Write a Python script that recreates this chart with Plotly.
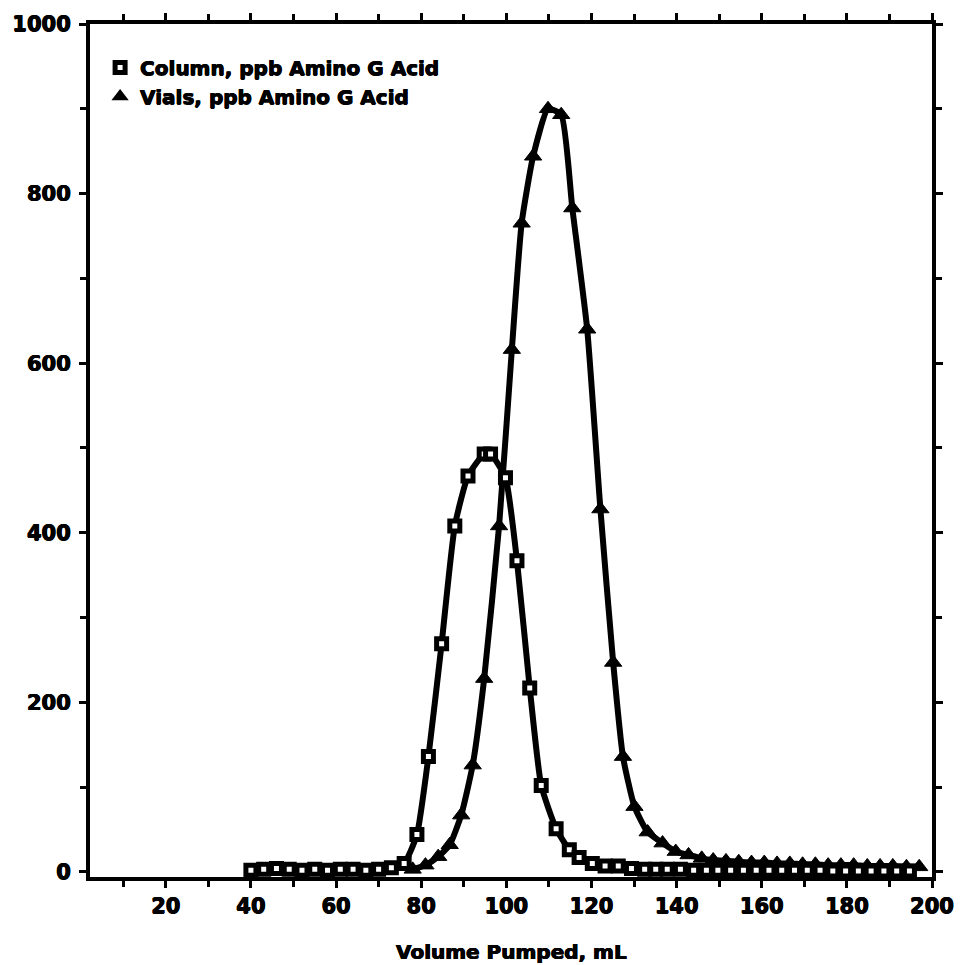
import plotly.graph_objects as go

# Column, ppb Amino G Acid (open squares)
col_x = [40, 43, 46, 49, 52, 55, 58, 61, 64, 67, 70, 73,
         76, 79, 81.7, 84.8, 87.9, 91, 94.8, 96.3, 99.8,
         102.5, 105.5, 108.2, 111.7, 114.8, 117.1, 120.2, 123.2,
         126.3, 129.4, 132.5, 135.1, 137.8, 140.9, 144, 147, 149.7,
         152.7, 155.7, 158.7, 161.7, 164.7, 167.7, 170.7, 173.7,
         176.7, 179.7, 182.7, 185.7, 188.7, 191.7, 194.7]
col_y = [2, 3, 4, 3, 2, 3, 2, 3, 3, 2, 3, 5,
         10, 44, 136, 269, 408, 467, 493, 493, 465,
         367, 217, 102, 51, 26, 17, 10, 7,
         7, 4, 3, 3, 3, 3, 2, 2, 2,
         2, 2, 2, 2, 2, 2, 2, 2,
         1, 1, 1, 1, 1, 1, 1]

# Vials, ppb Amino G Acid (filled triangles)
vial_x = [78, 81, 84, 86.7, 89.4, 92.1, 94.8, 98.3, 101.3, 103.6, 106.3,
          109.8, 112.9, 115.5, 119.0, 122.1, 125.1, 127.4, 130.1,
          133.2, 136.7, 139.8, 142.8, 145.9, 148.6,
          151.6, 154.6, 157.6, 160.6, 163.6, 166.6, 169.6, 172.6,
          175.6, 178.6, 181.6, 184.8, 187.8, 190.8, 194.0, 197.0]
vial_y = [3, 8, 18, 32, 67, 126, 228, 408, 616, 765, 844,
          900, 893, 783, 640, 428, 247, 136, 77,
          47, 34, 24, 20, 16, 14,
          13, 12, 11, 11, 10, 10, 9, 9,
          8, 8, 8, 7, 7, 7, 6, 6]

x_ticks = [20, 40, 60, 80, 100, 120, 140, 160, 180, 200]
y_ticks = [0, 200, 400, 600, 800, 1000]

FONT = "DejaVu Sans"
HEAVY = "0.5px 0 0 black, -0.5px 0 0 black, 0 0.4px 0 black"

fig = go.Figure()

fig.add_trace(go.Scatter(
    x=vial_x, y=vial_y, mode="lines+markers", showlegend=False,
    line=dict(color="black", width=6, shape="spline", smoothing=0.5),
    marker=dict(symbol="triangle-up", size=15, color="black",
                line=dict(color="black", width=1)),
))
fig.add_trace(go.Scatter(
    x=col_x, y=col_y, mode="lines+markers", showlegend=False,
    line=dict(color="black", width=6, shape="spline", smoothing=0.5),
    marker=dict(symbol="square", size=10, color="white",
                line=dict(color="black", width=5)),
))

# legend entries (marker only, as in the original)
fig.add_trace(go.Scatter(
    x=[None], y=[None], mode="markers", name="Column, ppb Amino G Acid",
    marker=dict(symbol="square", size=10, color="white",
                line=dict(color="black", width=5)),
    legend="legend",
))
fig.add_trace(go.Scatter(
    x=[None], y=[None], mode="markers", name="Vials, ppb Amino G Acid",
    marker=dict(symbol="triangle-up", size=15, color="black"),
    legend="legend2",
))

axis_common = dict(
    showline=True, linecolor="black", linewidth=4, mirror="allticks",
    ticks="outside", ticklen=7, tickwidth=3, tickcolor="black",
    showgrid=False, zeroline=False,
    tickfont=dict(family=FONT, size=21, color="black", weight="bold",
                  shadow=HEAVY),
)

fig.update_xaxes(
    range=[2.2, 200], tickmode="array", tickvals=x_ticks,
    ticktext=[str(v) for v in x_ticks], ticklabelstandoff=0,
    minor=dict(dtick=10, tick0=0, ticks="outside", ticklen=6,
               tickwidth=3, tickcolor="black"),
    **axis_common,
)
fig.update_yaxes(
    range=[-6, 1000], tickmode="array", tickvals=y_ticks,
    ticktext=[str(v) for v in y_ticks], ticklabelstandoff=4,
    minor=dict(dtick=100, tick0=0, ticks="outside", ticklen=6,
               tickwidth=3, tickcolor="black"),
    **axis_common,
)

fig.add_annotation(
    text="Volume Pumped, mL", xref="paper", yref="paper",
    x=0.501, y=-0.088, xanchor="center", yanchor="middle",
    showarrow=False,
    font=dict(family=FONT, size=20, color="black", weight="bold",
              shadow=HEAVY),
)

leg_font = dict(family=FONT, size=20, color="black", weight="bold",
                shadow=HEAVY)
fig.update_layout(
    width=966, height=965,
    margin=dict(l=85, r=23, t=22, b=88),
    paper_bgcolor="white", plot_bgcolor="white",
    legend=dict(
        x=0.012, y=0.972, xanchor="left", yanchor="top",
        bgcolor="rgba(0,0,0,0)", font=leg_font, itemsizing="trace",
    ),
    legend2=dict(
        x=0.012, y=0.938, xanchor="left", yanchor="top",
        bgcolor="rgba(0,0,0,0)", font=leg_font, itemsizing="trace",
    ),
    showlegend=True,
)

fig.write_html("out.html")
